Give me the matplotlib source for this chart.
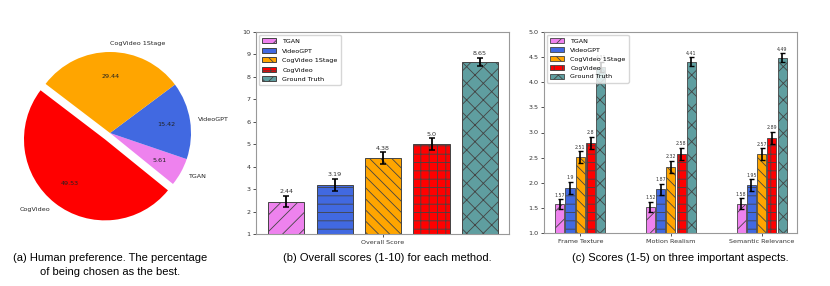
import matplotlib
matplotlib.use("Agg")
import matplotlib.pyplot as plt
import numpy as np

# (a) pie
pie_labels = ['TGAN', 'VideoGPT', 'CogVideo 1Stage', 'CogVideo']
pie_values = [5.61, 15.42, 29.44, 49.53]

methods = ['TGAN', 'VideoGPT', 'CogVideo 1Stage', 'CogVideo', 'Ground Truth']
colors = ['violet', 'royalblue', 'orange', 'red', 'cadetblue']
hatches = ['//', '--', '\\\\\\', '++', 'xx']

# (b) overall score
overall = [2.44, 3.19, 4.38, 5.0, 8.65]
overall_err = [0.25, 0.28, 0.26, 0.26, 0.18]

# (c) three aspects
aspects = ['Frame Texture', 'Motion Realism', 'Semantic Relevance']
aspect_scores = {
    'TGAN': [1.57, 1.52, 1.58],
    'VideoGPT': [1.9, 1.87, 1.95],
    'CogVideo 1Stage': [2.51, 2.32, 2.57],
    'CogVideo': [2.8, 2.58, 2.89],
    'Ground Truth': [4.31, 4.41, 4.49],
}
aspect_err = {
    'TGAN': [0.10, 0.10, 0.11],
    'VideoGPT': [0.115, 0.11, 0.12],
    'CogVideo 1Stage': [0.12, 0.12, 0.12],
    'CogVideo': [0.12, 0.12, 0.12],
    'Ground Truth': [0.10, 0.09, 0.09],
}

plt.rcParams['hatch.linewidth'] = 0.6
W, H = 830, 286
fig = plt.figure(figsize=(8.3, 2.86), dpi=100)

def box(x0, y0, x1, y1):
    # pixel box -> figure fraction
    return [x0 / W, 1 - y1 / H, (x1 - x0) / W, (y1 - y0) / H]

edge = '#444444'
frame = '#999999'
fs = 4.6

# ---- (a)
ax1 = fig.add_axes(box(0, 20, 220, 246))
ax1.pie(pie_values, labels=pie_labels, colors=['violet', 'royalblue', 'orange', 'red'],
        explode=[0, 0, 0, 0.1], startangle=-39, autopct='%.2f', pctdistance=0.7,
        textprops={'fontsize': fs, 'color': '#222222'})
ax1.set_aspect('auto')
ax1.set_xlim(-110 / 81, 110 / 81)
ax1.set_ylim(-113 / 81, 113 / 81)

# ---- (b)
ax2 = fig.add_axes(box(256, 32, 509, 234))
xb = np.arange(len(methods))
for i in range(len(methods)):
    ax2.bar(xb[i], overall[i] - 1, bottom=1, width=0.75, color=colors[i], hatch=hatches[i],
            edgecolor=edge, linewidth=0.7, label=methods[i])
    ax2.errorbar(xb[i], overall[i], yerr=overall_err[i], color='black', capsize=2.2,
                 elinewidth=1.3, capthick=1.1)
    ax2.text(xb[i], overall[i] + overall_err[i] + 0.08, str(overall[i]), ha='center',
             va='bottom', fontsize=fs, color='#333333')
ax2.set_xlim(-0.625, 4.6)
ax2.set_ylim(1, 10)
ax2.set_yticks(range(1, 11))
ax2.set_xticks([2])
ax2.set_xticklabels(['Overall Score'])
ax2.tick_params(labelsize=fs, length=2, width=0.6, colors='#333333', pad=2)
for s in ax2.spines.values():
    s.set_color(frame)
    s.set_linewidth(0.8)
ax2.legend(loc='upper left', fontsize=fs, handlelength=2.2, handleheight=0.8,
           labelspacing=0.6, borderpad=0.5, handletextpad=0.9)

# ---- (c)
ax3 = fig.add_axes(box(544, 32, 797, 233))
xc = np.arange(len(aspects))
step = 0.113
for i, m in enumerate(methods):
    pos = xc + (i - 2) * step
    ax3.bar(pos, np.array(aspect_scores[m]) - 1, bottom=1, width=0.1, color=colors[i],
            hatch=hatches[i], edgecolor=edge, linewidth=0.6, label=m)
    ax3.errorbar(pos, aspect_scores[m], yerr=aspect_err[m], fmt='none', ecolor='black',
                 capsize=1.8, elinewidth=1.2, capthick=1.0)
    for p, v, e in zip(pos, aspect_scores[m], aspect_err[m]):
        ax3.text(p, v + e + 0.03, str(v), ha='center', va='bottom', fontsize=3.4,
                 color='#333333')
ax3.set_xlim(-0.4, 2.39)
ax3.set_ylim(1.0, 5.0)
ax3.set_yticks(np.arange(1.0, 5.01, 0.5))
ax3.set_xticks(xc)
ax3.set_xticklabels(aspects)
ax3.tick_params(labelsize=fs, length=2, width=0.6, colors='#333333', pad=2)
for s in ax3.spines.values():
    s.set_color(frame)
    s.set_linewidth(0.8)
ax3.legend(loc='upper left', fontsize=fs, handlelength=2.2, handleheight=0.8,
           labelspacing=0.5, borderpad=0.5, handletextpad=0.9, framealpha=0.8)

# captions
cap = dict(ha='center', va='center', fontsize=8.0, family=['Liberation Sans Narrow', 'Liberation Sans'])
fig.text(110 / W, 1 - 258 / H, '(a) Human preference. The percentage', **cap)
fig.text(110 / W, 1 - 272 / H, 'of being chosen as the best.', **cap)
fig.text(387 / W, 1 - 258 / H, '(b) Overall scores (1-10) for each method.', **cap)
fig.text(680 / W, 1 - 258 / H, '(c) Scores (1-5) on three important aspects.', **cap)

fig.savefig('out.png', dpi=100)
